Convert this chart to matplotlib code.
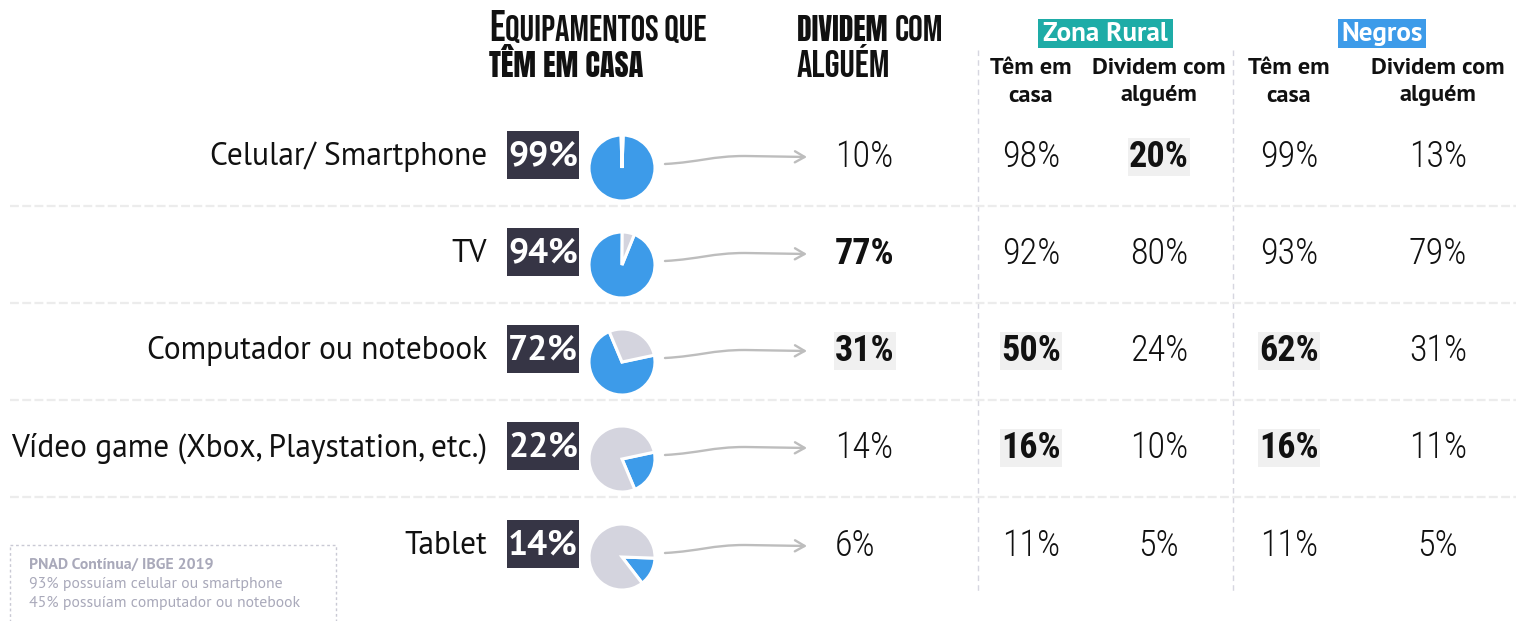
import matplotlib
matplotlib.use('Agg')
import matplotlib.pyplot as plt
from matplotlib.patches import Rectangle, FancyArrowPatch
from matplotlib.path import Path

# Dados
categorias = ['Celular/ Smartphone', 'TV', 'Computador ou notebook',
              'Vídeo game (Xbox, Playstation, etc.)', 'Tablet']
tem_em_casa = [99, 94, 72, 22, 14]
dividem = [10, 77, 31, 14, 6]
rural_tem = [98, 92, 50, 16, 11]
rural_dividem = [20, 80, 24, 10, 5]
negros_tem = [99, 93, 62, 16, 11]
negros_dividem = [13, 79, 31, 11, 5]

# Destaques (negrito / fundo cinza)
negrito_dividem = [False, True, True, False, False]
fundo_dividem = [False, False, True, False, False]
destaque_rural_tem = [False, False, True, True, False]
destaque_rural_dividem = [True, False, False, False, False]
destaque_negros_tem = [False, False, True, True, False]
destaque_negros_dividem = [False, False, False, False, False]

nota_titulo = 'PNAD Contínua/ IBGE 2019'
nota_linhas = ['93% possuíam celular ou smartphone', '45% possuíam computador ou notebook']

# Estilo
LARGURA, ALTURA = 1516, 621
AZUL = '#3d9be9'
CINZA_PIZZA = '#d4d4de'
CAIXA = '#363545'
TEAL = '#1eaca7'
FUNDO = '#f0f0f0'
SANS = ['PT Sans', 'Lato', 'DejaVu Sans']
COND = ['Roboto Condensed', 'DejaVu Sans']
TITULO_LEVE = ['Bebas Neue', 'DejaVu Sans']
TITULO_FORTE = ['Anton', 'DejaVu Sans']

linhas_y = [157, 254, 351, 448, 546]
inicio_azul = [2, 22, 78, 78, 92]   # ângulo (graus, horário a partir do topo)

fig = plt.figure(figsize=(LARGURA / 100, ALTURA / 100), dpi=100)
ax = fig.add_axes([0, 0, 1, 1])
ax.set_xlim(0, LARGURA)
ax.set_ylim(ALTURA, 0)
ax.axis('off')
renderer = fig.canvas.get_renderer()


def f_texto_partes(x, y, partes):
    # pedaços de texto na mesma linha de base; se houver largura, ajusta o tamanho a ela
    for texto, tamanho, familia, largura in partes:
        t = ax.text(x, y, texto, fontsize=tamanho, family=familia,
                    va='baseline', ha='left', color='#111111')
        w = t.get_window_extent(renderer).width
        if largura:
            t.set_fontsize(tamanho * largura / w)
            w = t.get_window_extent(renderer).width
        x += w


# Cabeçalhos
f_texto_partes(489, 41, [('E', 31, TITULO_LEVE, None), ('QUIPAMENTOS QUE', 26, TITULO_LEVE, None)])
f_texto_partes(489, 77, [('TÊM EM CASA', 22, TITULO_FORTE, 154)])
f_texto_partes(797, 41, [('DIVIDEM ', 26, TITULO_FORTE, 98), ('COM', 26.5, TITULO_LEVE, None)])
f_texto_partes(797, 77, [('ALGUÉM', 27.5, TITULO_LEVE, None)])

for rotulo, x0, larg, cor in [('Zona Rural', 1038, 135, TEAL), ('Negros', 1338, 88, AZUL)]:
    ax.add_patch(Rectangle((x0, 19), larg, 29, fc=cor, ec='none'))
    ax.text(x0 + larg / 2, 34, rotulo, fontsize=19.5, weight='bold', family=SANS,
            color='white', ha='center', va='center')

for xc, linha1, linha2 in [(1031, 'Têm em', 'casa'), (1159, 'Dividem com', 'alguém'),
                           (1289, 'Têm em', 'casa'), (1438, 'Dividem com', 'alguém')]:
    ax.text(xc, 68, linha1, fontsize=17.5, weight='bold', family=SANS, ha='center', va='center',
            color='#111111')
    ax.text(xc, 96, linha2, fontsize=17.5, weight='bold', family=SANS, ha='center', va='center',
            color='#111111')

# Linhas verticais e horizontais
for xv in [978, 1233]:
    ax.plot([xv, xv], [50, 592], color='#d6d6e0', lw=1, ls=(0, (4, 3)))
for i in range(len(linhas_y) - 1):
    yh = (linhas_y[i] + linhas_y[i + 1]) / 2
    ax.plot([10, LARGURA], [yh, yh], color='#ececec', lw=1.6, ls=(0, (4, 1.5)))

# Linhas da tabela
for i, cat in enumerate(categorias):
    yc = linhas_y[i]
    ax.text(487, yc, cat, fontsize=22.7, family=SANS, ha='right', va='center', color='#111111')

    ax.add_patch(Rectangle((507, yc - 26), 72, 48, fc=CAIXA, ec='none'))
    ax.text(543, yc - 1, f'{tem_em_casa[i]}%', fontsize=25.5, weight='bold', family=SANS,
            color='white', ha='center', va='center')

    # pizza: com o eixo y invertido, counterclock=True gira no sentido horário na tela
    ax.pie([tem_em_casa[i], 100 - tem_em_casa[i]], colors=[AZUL, CINZA_PIZZA],
           center=(622, yc + 11), radius=33, startangle=inicio_azul[i] - 90,
           counterclock=True, frame=True,
           wedgeprops=dict(edgecolor='white', linewidth=2.2))

    # seta curva
    caminho = Path([(665, yc + 7), (700, yc + 5), (712, yc - 1), (745, yc - 1), (807, yc)],
                   [Path.MOVETO, Path.CURVE4, Path.CURVE4, Path.CURVE4, Path.LINETO])
    ax.add_patch(FancyArrowPatch(path=caminho, arrowstyle='->,head_length=7,head_width=4',
                                 color='#bdbdbd', lw=1.7))

    caixa_fundo = dict(boxstyle='square,pad=0.03', fc=FUNDO, ec='none')
    ax.text(835, yc, f'{dividem[i]}%', fontsize=26, family=COND,
            weight='bold' if negrito_dividem[i] else 300, ha='left', va='center', color='#111111',
            bbox=caixa_fundo if fundo_dividem[i] else None)

    for xc, valores, destaque in [(1031, rural_tem, destaque_rural_tem),
                                  (1159, rural_dividem, destaque_rural_dividem),
                                  (1289, negros_tem, destaque_negros_tem),
                                  (1438, negros_dividem, destaque_negros_dividem)]:
        ax.text(xc, yc, f'{valores[i]}%', fontsize=26, family=COND,
                weight='bold' if destaque[i] else 300, ha='center', va='center', color='#111111',
                bbox=caixa_fundo if destaque[i] else None)

# Nota de rodapé
ax.add_patch(Rectangle((10, 545), 326, 90, fc='none', ec='#c9c9d4', lw=1, ls=(0, (2, 2))))
ax.text(29, 565, nota_titulo, fontsize=11.3, weight='bold', family=SANS, color='#a9a9ba', va='center')
for j, linha in enumerate(nota_linhas):
    ax.text(29, 584 + 19 * j, linha, fontsize=11.3, family=SANS, color='#a9a9ba', va='center')

ax.set_xlim(0, LARGURA)
ax.set_ylim(ALTURA, 0)
fig.savefig('out.png', dpi=100)
